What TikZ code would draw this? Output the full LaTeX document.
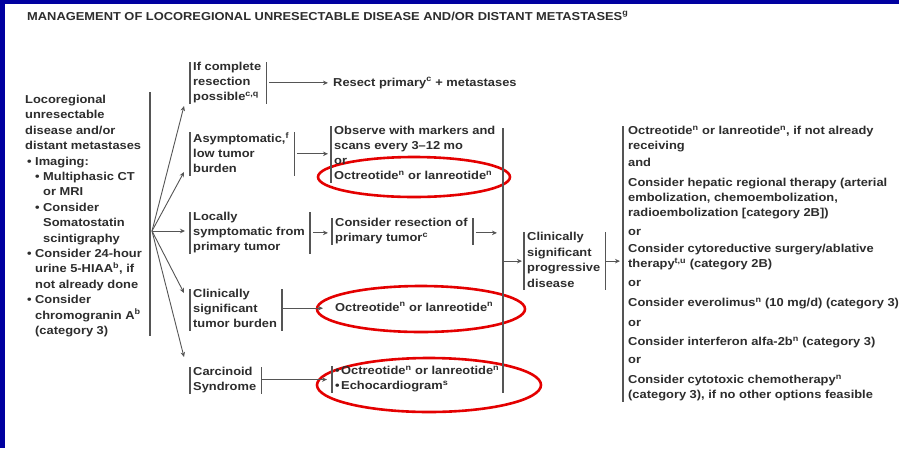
\documentclass[tikz,border=0pt]{standalone}
\usepackage{fontspec}
\setmainfont{Liberation Sans}[FakeStretch=1.12]
\usetikzlibrary{arrows.meta,calc}
\definecolor{txtc}{RGB}{45,45,45}
\definecolor{lnc}{RGB}{85,85,85}
\definecolor{ovalred}{RGB}{228,0,0}
\definecolor{framec}{RGB}{0,0,160}
\newcommand\bul{\makebox[8pt][l]{\textbullet}}
\newcommand\sbr[1]{\textsuperscript{#1}}
\tikzset{
  txt/.style={font=\fontsize{11.5}{15}\selectfont\bfseries, text=txtc, inner sep=0pt,
    align=left, anchor=north west,
    execute at begin node=\rule{0pt}{9pt},
    execute at end node=\rule[-3pt]{0pt}{3pt}},
  ttl/.style={font=\fontsize{11.5}{13}\selectfont\bfseries, text=txtc, inner sep=0pt, anchor=west},
  bar/.style={draw=lnc, line width=1.4pt},
  arr/.style={draw=lnc, line width=0.9pt, -{Stealth[length=5pt,width=4.5pt]}},
  oval/.style={draw=ovalred, line width=2.6pt},
}
\newcommand\brk[1]{%
  \draw[bar] ([xshift=-3pt]#1.north west) -- ([xshift=-3pt]#1.south west);
  \draw[bar] ([xshift=5pt]#1.north east) -- ([xshift=5pt]#1.south east);}
\newcommand\lbrk[1]{%
  \draw[bar] ([xshift=-3pt]#1.north west) -- ([xshift=-3pt]#1.south west);}
\begin{document}
\begin{tikzpicture}[x=1pt,y=-1pt]
\useasboundingbox (0,0) rectangle (899,448);
\fill[white] (0,0) rectangle (899,448);
\fill[framec] (0,0) rectangle (899,4);
\fill[framec] (0,0) rectangle (5,448);

% red ovals (drawn first, behind the text)
\draw[oval] (414,177) ellipse [x radius=96pt, y radius=20pt];
\draw[oval] (421,309) ellipse [x radius=104pt, y radius=23pt];
\draw[oval] (429,385) ellipse [x radius=112pt, y radius=27pt];

\node[ttl] (title) at (27,16) {MANAGEMENT OF LOCOREGIONAL UNRESECTABLE DISEASE AND/OR DISTANT METASTASES\sbr{g}};

% left block
\node[txt, font=\fontsize{11.5}{15.4}\selectfont\bfseries] (L) at (25,95) {Locoregional\\
unresectable\\
disease and/or\\
distant metastases\\
\hspace*{2pt}\bul Imaging:\\
\hspace*{10pt}\bul Multiphasic CT\\
\hspace*{18pt}or MRI\\
\hspace*{10pt}\bul Consider\\
\hspace*{18pt}Somatostatin\\
\hspace*{18pt}scintigraphy\\
\hspace*{2pt}\bul Consider 24-hour\\
\hspace*{10pt}urine 5-HIAA\sbr{b}, if\\
\hspace*{10pt}not already done\\
\hspace*{2pt}\bul Consider\\
\hspace*{10pt}chromogranin A\sbr{b}\\
\hspace*{10pt}(category 3)};
\coordinate (Ltop) at (150,92);
\coordinate (Lbot) at (150,336);
\draw[bar] (Ltop) -- (Lbot);

% branch boxes
\node[txt] (b1) at (193,62) {If complete\\resection\\possible\sbr{c,q}};
\node[txt] (b2) at (193,132) {Asymptomatic,\sbr{f}\\low tumor\\burden};
\node[txt] (b3) at (193,212) {Locally\\symptomatic from\\primary tumor};
\node[txt] (b4) at (193,289) {Clinically\\significant\\tumor burden};
\node[txt] (b5) at (193,367) {Carcinoid\\Syndrome};
\brk{b1}\brk{b2}\brk{b3}\brk{b4}\brk{b5}

% fan arrows
\coordinate (fan) at (152,231);
\coordinate (t1) at (184,106);
\coordinate (t2) at (184,172);
\coordinate (t3) at (185,231);
\coordinate (t4) at (184,293);
\coordinate (t5) at (184,357);
\foreach \t in {t1,t2,t3,t4,t5} \draw[arr] (fan) -- (\t);

% second column
\node[txt] (r1) at (333,77) {Resect primary\sbr{c} + metastases};
\node[txt] (r2) at (334,126) {Observe with markers and\\scans every 3–12 mo\\or\\Octreotide\sbr{n} or lanreotide\sbr{n}};
\node[txt] (r3) at (335,218) {Consider resection of\\primary tumor\sbr{c}};
\node[txt] (r4) at (335,302) {Octreotide\sbr{n} or lanreotide\sbr{n}};
\node[txt] (r5) at (335,366) {\makebox[6pt][l]{\textbullet}Octreotide\sbr{n} or lanreotide\sbr{n}\\\makebox[6pt][l]{\textbullet}Echocardiogram\sbr{s}};
\lbrk{r2}\brk{r3}\lbrk{r5}

\draw[arr] ([xshift=8pt]b1.east) -- ([xshift=-5pt]b1.east -| r1.west);
\draw[arr] ([xshift=8pt]b2.east) -- ([xshift=-6pt]b2.east -| r2.west);
\draw[arr] ([xshift=8pt]b3.east) -- ([xshift=-7pt]b3.east -| r3.west);
\draw[arr] ([xshift=5pt]b4.east |- r4.west) -- ([xshift=-12pt]r4.west);
\draw[arr] ([xshift=5pt]b5.east |- r5.west) -- ([xshift=-8pt]r5.west);

% big bar
\coordinate (bigtop) at (503,128);
\coordinate (bigbot) at (503,393);
\draw[bar] (bigtop) -- (bigbot);
\draw[arr] ([xshift=8pt]b3.east -| r3.east) -- ([xshift=-6pt]b3.east -| bigtop);

% progressive disease
\node[txt, font=\fontsize{11.5}{15.5}\selectfont\bfseries] (c1) at (527,232) {Clinically\\significant\\progressive\\disease};
\brk{c1}
\draw[arr] (c1.west -| bigtop) -- ([xshift=-5pt]c1.west);

% right column
\node[txt] (R) at (628,126) {Octreotide\sbr{n} or lanreotide\sbr{n}, if not already\\
receiving\\[2pt]
and\\[5pt]
Consider hepatic regional therapy (arterial\\
embolization, chemoembolization,\\
radioembolization [category 2B])\\[4pt]
or\\[2pt]
Consider cytoreductive surgery/ablative\\
therapy\sbr{t,u} (category 2B)\\[4pt]
or\\[5pt]
Consider everolimus\sbr{n} (10 mg/d) (category 3)\\[5pt]
or\\[4pt]
Consider interferon alfa-2b\sbr{n} (category 3)\\[3pt]
or\\[5pt]
Consider cytotoxic chemotherapy\sbr{n}\\
(category 3), if no other options feasible};
\draw[bar] ([xshift=-5pt]R.north west) -- ([xshift=-5pt]R.south west);
\draw[arr] ([xshift=5pt]c1.east) -- ([xshift=-8pt]c1.east -| R.west);
\end{tikzpicture}
\end{document}
